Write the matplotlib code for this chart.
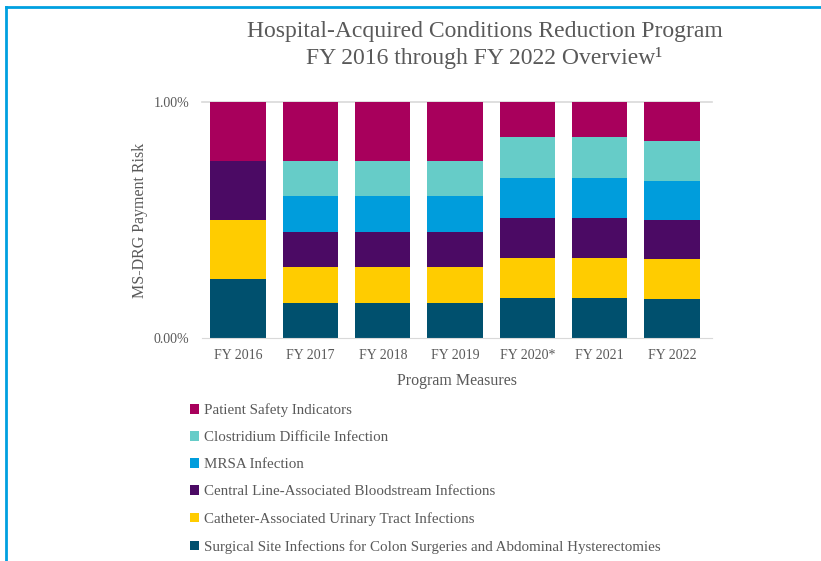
import numpy as np
import matplotlib
matplotlib.use('Agg')
import matplotlib.pyplot as plt
from matplotlib.lines import Line2D

years = ['FY 2016', 'FY 2017', 'FY 2018', 'FY 2019', 'FY 2020*', 'FY 2021', 'FY 2022']

# payment risk share (%) per measure, bottom to top
ssi = [0.25, 0.15, 0.15, 0.15, 0.17, 0.17, 0.1667]
cauti = [0.25, 0.15, 0.15, 0.15, 0.17, 0.17, 0.1667]
clabsi = [0.25, 0.15, 0.15, 0.15, 0.17, 0.17, 0.1667]
mrsa = [0.0, 0.15, 0.15, 0.15, 0.17, 0.17, 0.1667]
cdi = [0.0, 0.15, 0.15, 0.15, 0.17, 0.17, 0.1667]
psi = [0.25, 0.25, 0.25, 0.25, 0.15, 0.15, 0.1667]

labels = ['Surgical Site Infections for Colon Surgeries and Abdominal Hysterectomies',
          'Catheter-Associated Urinary Tract Infections',
          'Central Line-Associated Bloodstream Infections',
          'MRSA Infection',
          'Clostridium Difficile Infection',
          'Patient Safety Indicators']
colors = ['#00506E', '#FFCC00', '#4B0A64', '#009DDC', '#66CCC8', '#A8005C']

txt = '#595959'
plt.rcParams['font.family'] = ['Liberation Serif', 'DejaVu Serif']

fig = plt.figure(figsize=(8.21, 5.61), dpi=100)
ax = fig.add_axes([0.246, 0.3975, 0.621, 0.4205])

x = np.arange(len(years))
bottom = np.zeros(len(years))
bars = []
for vals, lab, col in zip([ssi, cauti, clabsi, mrsa, cdi, psi], labels, colors):
    b = ax.bar(x, vals, bottom=bottom, width=0.765, color=col, label=lab, linewidth=0)
    bars.append(b)
    bottom += np.array(vals)

ax.set_xlim(-0.5, 6.55)
ax.set_ylim(0, 1.0)
ax.set_yticks([0, 1.0])
ax.set_yticklabels(['0.00%', '1.00%'])
ax.set_xticks(x)
ax.set_xticklabels(years)
ax.tick_params(length=0, labelsize=10, labelcolor=txt, pad=9)
ax.tick_params(axis='x', pad=8)
for s in ['top', 'right', 'left']:
    ax.spines[s].set_visible(False)
ax.spines['bottom'].set_color('#d9d9d9')
ax.axhline(1.0, color='#d9d9d9', linewidth=1.2, zorder=0, clip_on=False)
ax.set_axisbelow(True)

ax.set_xlabel('Program Measures', fontsize=11.5, color=txt, labelpad=8)
ax.set_ylabel('MS-DRG Payment Risk', fontsize=11.5, color=txt, labelpad=4)

fig.text(0.59, 0.943, 'Hospital-Acquired Conditions Reduction Program',
         ha='center', va='center', fontsize=17, color=txt)
fig.text(0.59, 0.897, 'FY 2016 through FY 2022 Overview\u00b9',
         ha='center', va='center', fontsize=17, color=txt)

fig.legend(handles=bars[::-1], loc='upper left', bbox_to_anchor=(0.215, 0.305),
           frameon=False, fontsize=10.8, labelcolor=txt, handlelength=0.6,
           handleheight=0.6, handletextpad=0.3, labelspacing=0.93)

# blue frame along the top and left edges
fig.add_artist(Line2D([5.5 / 821, 5.5 / 821], [0, 1 - 6.5 / 561], transform=fig.transFigure,
                      color='#00A0E0', linewidth=2))
fig.add_artist(Line2D([5.5 / 821, 1], [1 - 6.5 / 561, 1 - 6.5 / 561], transform=fig.transFigure,
                      color='#00A0E0', linewidth=2))

plt.savefig('out.png', dpi=100)
